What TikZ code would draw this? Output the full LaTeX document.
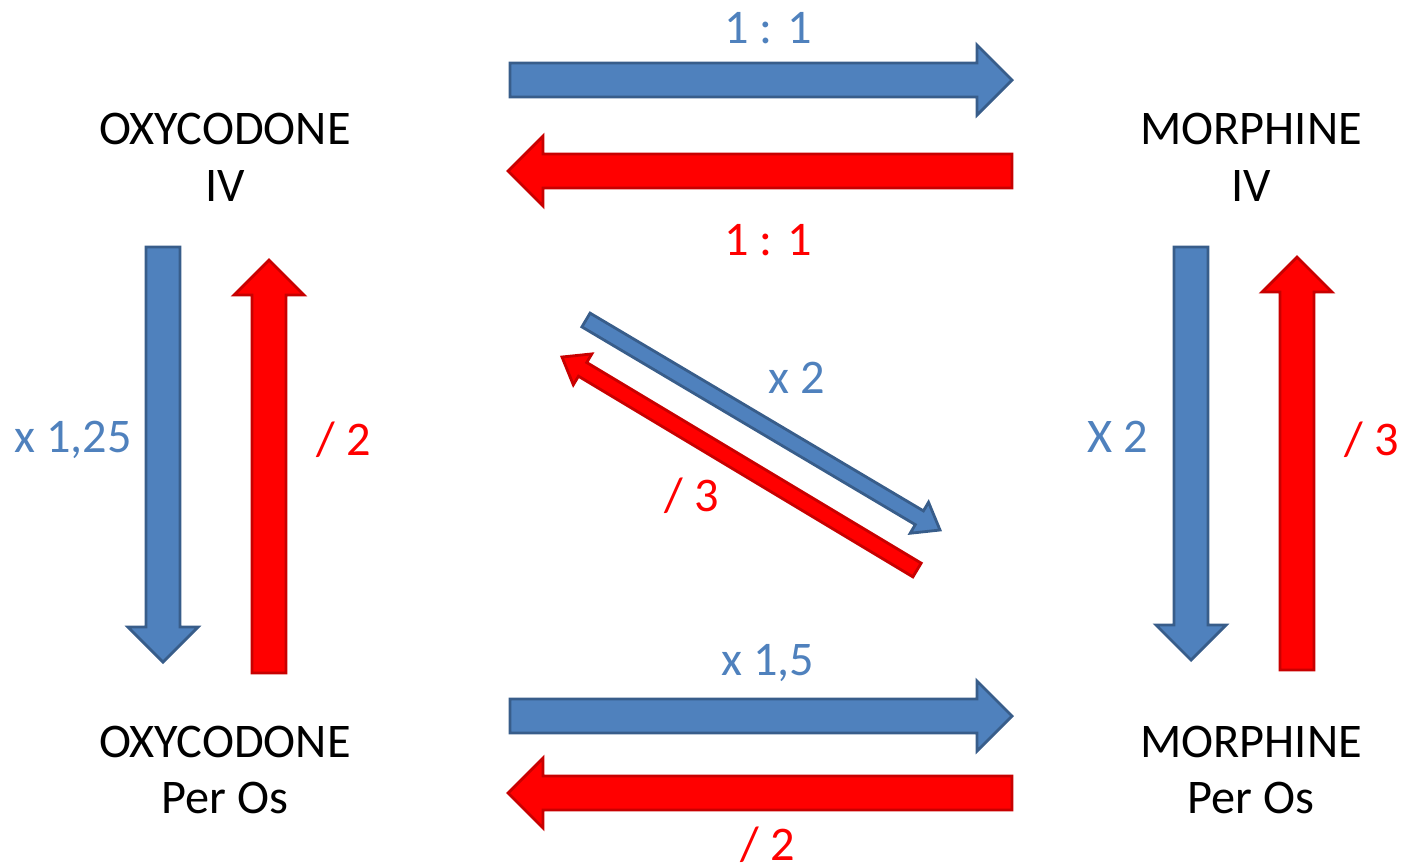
\documentclass[tikz,border=0pt]{standalone}
\usepackage{fontspec}
\setmainfont{Carlito}
\usetikzlibrary{calc}
\definecolor{arrowblue}{RGB}{79,129,189}
\definecolor{edgeblue}{RGB}{56,93,138}
\definecolor{arrowred}{RGB}{255,0,0}
\definecolor{edgered}{RGB}{200,0,0}

% block arrow: style, start, tip, shaft half width, head half width, head length
\newcommand{\blockarrow}[6]{%
  \coordinate (hb) at ($(#3)!#6!(#2)$);
  \draw[#1] ($(#2)!#4!90:(#3)$) -- ($(hb)!#4!90:(#3)$) -- ($(hb)!#5!90:(#3)$)
    -- (#3) -- ($(hb)!#5!-90:(#3)$) -- ($(hb)!#4!-90:(#3)$) -- ($(#2)!#4!-90:(#3)$) -- cycle;
}

\begin{document}
\begin{tikzpicture}[
    x=0.02cm, y=-0.02cm,
    every node/.style={font=\fontsize{27.5}{32.4}\selectfont},
    drug/.style={align=center, text=black},
    bluelbl/.style={text=arrowblue},
    redlbl/.style={text=arrowred},
    bluearrow/.style={fill=arrowblue, draw=edgeblue, line width=1.6pt},
    redarrow/.style={fill=arrowred, draw=edgered, line width=1.6pt}
  ]
    \useasboundingbox (0,0) rectangle (1404,867);

    % drugs
    \node[drug] (oxyiv) at (225,157) {OXYCODONE\\IV};
    \node[drug] (moriv) at (1251,157) {MORPHINE\\IV};
    \node[drug] (oxypo) at (225,770) {OXYCODONE\\Per Os};
    \node[drug] (morpo) at (1251,770) {MORPHINE\\Per Os};

    % arrow ends
    \coordinate (topb-s) at (510,80);   \coordinate (topb-e) at (1012,80);
    \coordinate (topr-s) at (1012,171); \coordinate (topr-e) at (508,171);
    \coordinate (botb-s) at (510,716);  \coordinate (botb-e) at (1012,716);
    \coordinate (botr-s) at (1012,793); \coordinate (botr-e) at (508,793);
    \coordinate (leftb-s) at (163,247); \coordinate (leftb-e) at (163,662);
    \coordinate (leftr-s) at (269,673); \coordinate (leftr-e) at (269,260);
    \coordinate (rightb-s) at (1191,247); \coordinate (rightb-e) at (1191,660);
    \coordinate (rightr-s) at (1297,670); \coordinate (rightr-e) at (1297,257);
    \coordinate (diagb-s) at (586,320); \coordinate (diagb-e) at (940,530);
    \coordinate (diagr-s) at (917,570); \coordinate (diagr-e) at (562,357);

    \blockarrow{bluearrow}{topb-s}{topb-e}{0.34cm}{0.7cm}{0.7cm}
    \blockarrow{redarrow}{topr-s}{topr-e}{0.34cm}{0.7cm}{0.7cm}
    \blockarrow{bluearrow}{botb-s}{botb-e}{0.34cm}{0.7cm}{0.7cm}
    \blockarrow{redarrow}{botr-s}{botr-e}{0.34cm}{0.7cm}{0.7cm}
    \blockarrow{bluearrow}{leftb-s}{leftb-e}{0.34cm}{0.7cm}{0.7cm}
    \blockarrow{redarrow}{leftr-s}{leftr-e}{0.34cm}{0.7cm}{0.7cm}
    \blockarrow{bluearrow}{rightb-s}{rightb-e}{0.34cm}{0.7cm}{0.7cm}
    \blockarrow{redarrow}{rightr-s}{rightr-e}{0.34cm}{0.7cm}{0.7cm}
    \blockarrow{bluearrow}{diagb-s}{diagb-e}{0.16cm}{0.36cm}{0.48cm}
    \blockarrow{redarrow}{diagr-s}{diagr-e}{0.16cm}{0.36cm}{0.48cm}

    % ratios
    \node[bluelbl] (lbl-topb) at (768,28) {1 : 1};
    \node[redlbl] (lbl-topr) at (768,240) {1 : 1};
    \node[bluelbl] (lbl-botb) at (768,663) {x 1,5};
    \node[redlbl] (lbl-botr) at (768,845) {/ 2};
    \node[bluelbl] (lbl-leftb) at (73,440) {x 1,25};
    \node[redlbl] (lbl-leftr) at (344,440) {/ 2};
    \node[bluelbl] (lbl-rightb) at (1118,437) {X 2};
    \node[redlbl] (lbl-rightr) at (1372,440) {/ 3};
    \node[bluelbl] (lbl-diagb) at (797,378) {x 2};
    \node[redlbl] (lbl-diagr) at (692,496) {/ 3};
  \end{tikzpicture}
\end{document}
